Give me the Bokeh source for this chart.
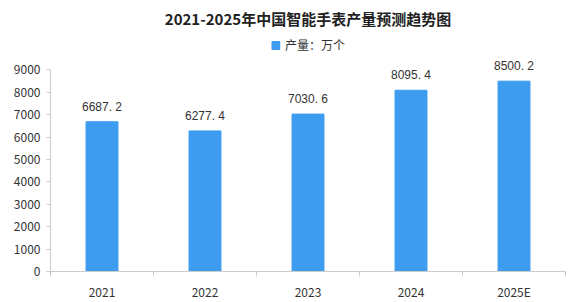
from bokeh.plotting import figure
from bokeh.models import ColumnDataSource, FixedTicker, Range1d, LabelSet, Legend, LegendItem
from bokeh.embed import file_html
from bokeh.resources import INLINE

years = ["2021", "2022", "2023", "2024", "2025E"]
output = [6687.2, 6277.4, 7030.6, 8095.4, 8500.2]
labels = ["6687. 2", "6277. 4", "7030. 6", "8095. 4", "8500. 2"]
y_ticks = [0, 1000, 2000, 3000, 4000, 5000, 6000, 7000, 8000, 9000]

xs = [i + 0.5 for i in range(len(years))]
src = ColumnDataSource(dict(x=xs, y=output, lab=labels))

FONT = "Noto Sans CJK SC"
p = figure(width=569, height=302, output_backend="svg", toolbar_location=None,
           x_range=Range1d(0, len(years)), y_range=Range1d(0, 10630),
           min_border_left=50, min_border_right=4, min_border_top=0, min_border_bottom=28)
p.outline_line_color = None
p.xgrid.visible = False
p.ygrid.visible = False

r = p.vbar(x="x", top="y", width=0.31, source=src, fill_color="#3d9cf0", line_color="#3d9cf0")

p.add_layout(LabelSet(x="x", y="y", text="lab", source=src, text_align="center",
                      y_offset=8, text_font_size="12px", text_color="#333333"))

p.xaxis.ticker = FixedTicker(ticks=xs, minor_ticks=list(range(len(years) + 1)))
p.xaxis.major_label_overrides = {x: y for x, y in zip(xs, years)}
p.xaxis.major_tick_line_color = None
p.xaxis.minor_tick_in = 0
p.xaxis.minor_tick_out = 5
p.xaxis.minor_tick_line_color = "#cccccc"
p.xaxis.axis_line_color = "#cccccc"
p.xaxis.major_label_text_font = FONT
p.xaxis.major_label_text_font_size = "12px"
p.xaxis.major_label_text_color = "#333333"
p.xaxis.major_label_standoff = 5

p.yaxis.ticker = FixedTicker(ticks=y_ticks)
p.yaxis.bounds = (0, 9000)
p.yaxis.minor_tick_line_color = None
p.yaxis.major_tick_in = 0
p.yaxis.major_tick_out = 4
p.yaxis.major_tick_line_color = "#cccccc"
p.yaxis.axis_line_color = "#cccccc"
p.yaxis.major_label_text_font = FONT
p.yaxis.major_label_text_font_size = "12px"
p.yaxis.major_label_text_color = "#333333"
p.yaxis.major_label_standoff = 6

legend = Legend(items=[LegendItem(label="产量：万个", renderers=[r])], orientation="horizontal",
                location="top_center", border_line_color=None, background_fill_alpha=0,
                label_text_font=FONT,
                label_text_font_size="12px", label_text_color="#333333",
                glyph_width=10, glyph_height=10, padding=2, margin=3, label_standoff=5)
p.add_layout(legend)

p.title.text = "2021-2025年中国智能手表产量预测趋势图"
p.title.align = "center"
p.title.text_font = FONT
p.title.text_font_size = "15px"
p.title.text_font_style = "bold"
p.title.text_color = "#222222"

open("out.html", "w").write(file_html(p, INLINE))
